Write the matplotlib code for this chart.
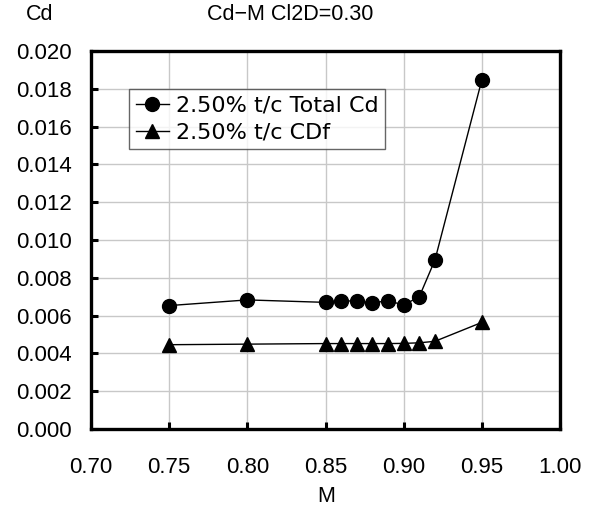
import matplotlib
matplotlib.use("Agg")
import matplotlib.pyplot as plt

plt.rcParams['font.family'] = ['Liberation Sans', 'DejaVu Sans']

mach = [0.75, 0.80, 0.85, 0.86, 0.87, 0.88, 0.89, 0.90, 0.91, 0.92, 0.95]
total_cd = [0.00653, 0.00683, 0.00670, 0.00679, 0.00676, 0.00667, 0.00679, 0.00656, 0.00700, 0.00894, 0.01847]
cdf = [0.00446, 0.00449, 0.00452, 0.00452, 0.00452, 0.00452, 0.00452, 0.00453, 0.00456, 0.00464, 0.00564]

x_ticks = [0.70, 0.75, 0.80, 0.85, 0.90, 0.95, 1.00]
y_ticks = [0.000, 0.002, 0.004, 0.006, 0.008, 0.010, 0.012, 0.014, 0.016, 0.018, 0.020]

W, H = 592, 513
fig = plt.figure(figsize=(W/100, H/100), dpi=100)
ax = fig.add_axes([91/W, 1-429/H, (560-91)/W, (429-51)/H])

fs_tick = 16
fs_lab = 15.5
ax.plot(mach, total_cd, color='black', lw=1.0, marker='o', ms=10, label='2.50% t/c Total Cd')
ax.plot(mach, cdf, color='black', lw=1.0, marker='^', ms=10, label='2.50% t/c CDf')

ax.set_xlim(0.70, 1.00)
ax.set_ylim(0.0, 0.020)
ax.set_xticks(x_ticks)
ax.set_yticks(y_ticks)
ax.set_xticklabels([f"{v:.2f}" for v in x_ticks], fontsize=fs_tick)
ax.set_yticklabels([f"{v:.3f}" for v in y_ticks], fontsize=fs_tick)
ax.grid(True, color='#c8c8c8', lw=1.0)
ax.set_axisbelow(True)
for s in ax.spines.values():
    s.set_linewidth(2.4)
ax.tick_params(axis='both', direction='in', length=5, width=2.2, colors='black')
ax.tick_params(axis='y', pad=14)
ax.tick_params(axis='x', pad=20)
ax.tick_params(top=False, right=False)

leg = ax.legend(loc='upper left', bbox_to_anchor=((129-91)/(560-91), (429-89)/(429-51)),
                prop={'family': ['DejaVu Sans'], 'size': 16}, frameon=True, fancybox=False,
                edgecolor='#404040',
                handlelength=1.5, handletextpad=0.3, borderpad=0.3, labelspacing=0.3,
                borderaxespad=0.0)
leg.get_frame().set_linewidth(1.0)

fig.text(40/W, 1-15/H, 'Cd', ha='center', va='center', fontsize=fs_lab)
fig.text(290/W, 1-15/H, 'Cd−M Cl2D=0.30', ha='center', va='center', fontsize=fs_lab)
fig.text(326/W, 1-497/H, 'M', ha='center', va='center', fontsize=fs_lab)

fig.savefig('out.png', dpi=100)
